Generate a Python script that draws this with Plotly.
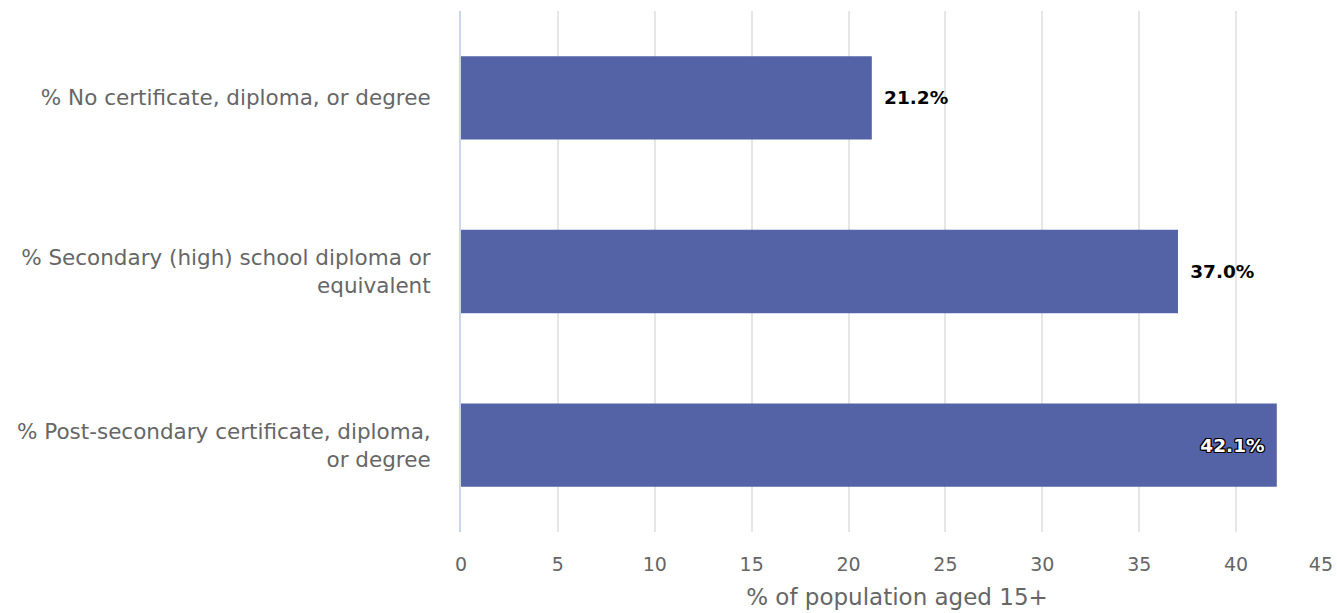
import plotly.graph_objects as go

categories = [
    "% No certificate, diploma, or degree",
    "% Secondary (high) school diploma or<br>equivalent",
    "% Post-secondary certificate, diploma,<br>or degree",
]
values = [21.2, 37.0, 42.1]
text_positions = ["outside", "outside", "inside"]
tick_vals = [0, 5, 10, 15, 20, 25, 30, 35, 40, 45]
tick_text = ["0", "5", "10", "15", "20", "25", "30", "35", "40", "45\u00a0\u00a0\u00a0\u00a0"]

FONT = "DejaVu Sans"
SP = "\u2002"
templates = [
    (SP + "%{x:.1f}%") if p == "outside" else ("%{x:.1f}%" + SP)
    for p in text_positions
]

outline = ", ".join(
    f"{dx}px {dy}px 0 black"
    for dx, dy in [(1, 1), (-1, -1), (1, -1), (-1, 1), (0, 1), (0, -1), (1, 0), (-1, 0)]
)

fig = go.Figure(
    go.Bar(
        x=values,
        y=categories,
        orientation="h",
        marker=dict(color="#5463a6", line=dict(width=0)),
        texttemplate=templates,
        textposition=text_positions,
        insidetextanchor="end",
        outsidetextfont=dict(color="black", size=18.5, family=FONT, weight="bold"),
        insidetextfont=dict(color="white", size=18.5, family=FONT, weight="bold", shadow=outline),
        cliponaxis=False,
        width=0.48,
        hoverinfo="skip",
    )
)

fig.update_layout(
    width=1337,
    height=613,
    margin=dict(l=461, r=4, t=11, b=81),
    paper_bgcolor="white",
    plot_bgcolor="white",
    showlegend=False,
    font=dict(family=FONT, color="#666666"),
    xaxis=dict(
        range=[0, 45],
        tickvals=tick_vals,
        ticktext=tick_text,
        ticklabeloverflow="allow",
        automargin=False,
        showgrid=True,
        gridcolor="#e6e6e6",
        gridwidth=2,
        zeroline=False,
        showline=False,
        tickfont=dict(size=19, color="#666666"),
        ticks="",
        ticklabelstandoff=19,
        title=dict(text="% of population aged 15+", font=dict(size=23, color="#666666"), standoff=14),
    ),
    yaxis=dict(
        autorange="reversed",
        automargin=False,
        showline=True,
        linecolor="#ccd6eb",
        linewidth=2,
        showgrid=False,
        ticks="",
        ticklabelstandoff=24,
        tickfont=dict(size=21.5, color="#666666"),
    ),
)

fig.write_html(
    "out.html",
    config={"displayModeBar": False},
    post_script="document.body.style.margin='0';document.body.style.overflow='hidden';",
)
